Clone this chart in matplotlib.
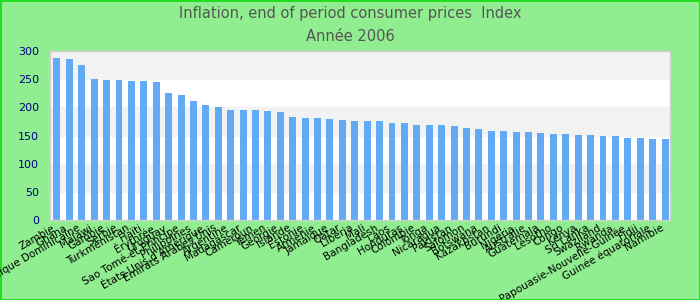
"""Inflation, end of period consumer prices - bar chart for 2006."""

import matplotlib

matplotlib.use("Agg")
import matplotlib.pyplot as plt

countries = [
    "Zambie", "Ghana", "République Dominicaine", "Malawi", "Gambie", "Serbie",
    "Turkménistan", "Haïti", "Érythrée", "Uruguay", "Sao Tomé-et-Principe",
    "Philippines", "États-Unis d'Amérique", "Émirats Arabes Unis", "Argentine",
    "Madagascar", "Cameroun", "Yémen", "Géorgie", "Islande", "Estonie",
    "Arménie", "Jamaïque", "Qatar", "Libéria", "Mali", "Bangladesh", "Laos",
    "Honduras", "Colombie", "Tonga", "Nicaragua", "Pakistan", "Salomon",
    "Botswana", "Kazakhstan", "Burundi", "Nigéria", "Australie", "Guatemala",
    "Lesotho", "Congo", "Kenya", "Sri Lanka", "Swaziland", "Rwanda",
    "Papouasie-Nouvelle-Guinée", "Fidji", "Guinée équatoriale", "Namibie",
]
index_values = [
    288, 285, 276, 250.5, 249, 249, 247, 247, 245.5, 226, 222.5, 211.5, 205,
    201, 196, 196, 196, 194, 192.5, 183, 181, 181, 179.5, 178, 176.5, 176.5,
    175, 173, 171.5, 169.5, 168, 168, 166, 164, 162, 158.6, 158.6, 157, 157,
    155, 153.3, 153.3, 151.5, 151.5, 149.7, 149.7, 146.2, 146.2, 144.4, 144.4,
]

fig = plt.figure(figsize=(7, 3), dpi=100)
fig.patch.set_facecolor("#90ee90")
fig.patch.set_edgecolor("#22dd22")
fig.patch.set_linewidth(2)

ax = fig.add_axes([50 / 700, 80 / 300, 620 / 700, 169 / 300])
ax.set_facecolor("white")

# alternating horizontal bands
for lo in (50, 150, 250):
    ax.axhspan(lo, lo + 50, color="#f2f2f2", zorder=0)

x = range(len(countries))
ax.bar(x, index_values, width=0.56, color="#62aaf4", zorder=2)

ax.set_xlim(-0.56, len(countries) - 0.6)
ax.set_ylim(0, 300)
ax.set_yticks(range(0, 301, 50))
ax.tick_params(axis="y", length=0, labelsize=8, labelcolor="#000080", pad=8)
ax.tick_params(axis="x", length=0, labelsize=7.5, pad=2)
ax.set_xticks(list(x))
ax.set_xticklabels(countries, rotation=30, ha="right")

for spine in ax.spines.values():
    spine.set_color("#d0d0d0")
    spine.set_linewidth(1)

fig.text(0.5, 0.955, "Inflation, end of period consumer prices  Index",
         ha="center", va="center", fontsize=10.5, color="#555555")
fig.text(0.5, 0.878, "Année 2006", ha="center", va="center",
         fontsize=10.5, color="#555555")

fig.savefig("out.png", dpi=100, facecolor=fig.get_facecolor(),
            edgecolor=fig.get_edgecolor())
